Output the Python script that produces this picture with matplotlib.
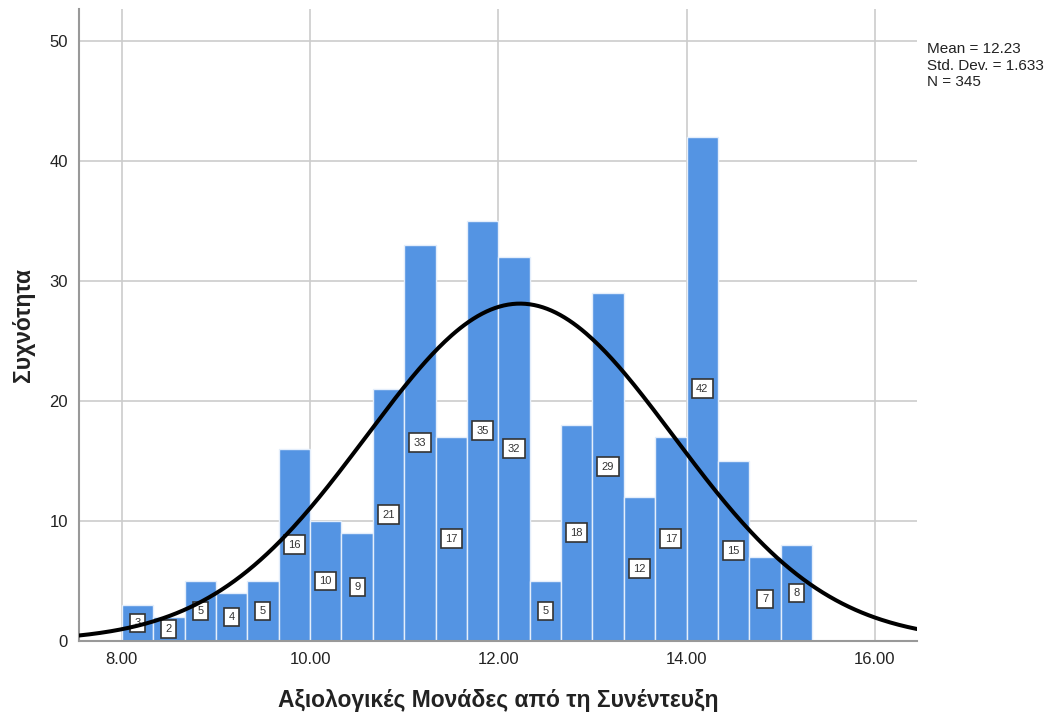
import numpy as np
import matplotlib.pyplot as plt

plt.rcParams['font.family'] = ['Liberation Sans', 'DejaVu Sans']

# histogram of interview scores (bins of width 1/3 starting at 8.0)
bin_start = 8.0
bin_width = 1 / 3
counts = [3, 2, 5, 4, 5, 16, 10, 9, 21, 33, 17, 35, 32, 5, 18, 29, 12, 17, 42, 15, 7, 8]
mean = 12.23
std_dev = 1.633
n_total = 345

x_ticks = [8, 10, 12, 14, 16]
x_tick_labels = ['8.00', '10.00', '12.00', '14.00', '16.00']
y_ticks = [0, 10, 20, 30, 40, 50]

fig = plt.figure(figsize=(10.53, 7.17), dpi=100)
ax = fig.add_axes([0.075, 0.106, 0.796, 0.881])

lefts = bin_start + bin_width * np.arange(len(counts))
centers = lefts + bin_width / 2
ax.bar(lefts, counts, width=bin_width, align='edge', color='#5494e3',
       edgecolor='#e4eefb', linewidth=1.0, zorder=2)

for cx, c in zip(centers, counts):
    ax.text(cx, c / 2, str(c), ha='center', va='center', fontsize=8,
            color='#333333', zorder=3,
            bbox=dict(boxstyle='square,pad=0.4', fc='white', ec='#333333', lw=1.2))

xs = np.linspace(7.4, 16.6, 400)
pdf = n_total * bin_width / (std_dev * np.sqrt(2 * np.pi)) * np.exp(-0.5 * ((xs - mean) / std_dev) ** 2)
ax.plot(xs, pdf, color='black', lw=2.9, zorder=4)

ax.set_xlim(7.545, 16.45)
ax.set_ylim(0, 52.6)
ax.set_xticks(x_ticks)
ax.set_xticklabels(x_tick_labels)
ax.set_yticks(y_ticks)
ax.tick_params(axis='both', length=0, labelsize=12, colors='#222222', pad=8)
ax.grid(True, color='#cccccc', lw=1.2, zorder=0)
ax.set_axisbelow(True)
for side in ['top', 'right']:
    ax.spines[side].set_visible(False)
for side in ['left', 'bottom']:
    ax.spines[side].set_color('#999999')
    ax.spines[side].set_linewidth(1.5)

ax.set_xlabel('Αξιολογικές Μονάδες από τη Συνέντευξη', fontsize=16.5, fontweight='bold',
              color='#222222', labelpad=16)
ax.set_ylabel('Συχνότητα', fontsize=16.5, fontweight='bold', color='#222222', labelpad=10)

fig.text(0.880, 0.941, 'Mean = 12.23\nStd. Dev. = 1.633\nN = 345', fontsize=11,
         va='top', ha='left', color='#222222', linespacing=1.2)

fig.savefig('out.png', dpi=100, facecolor='white')
